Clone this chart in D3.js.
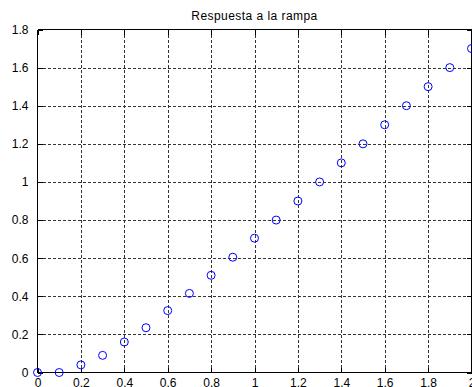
<!DOCTYPE html>
<html>
<head>
<meta charset="utf-8">
<script src="https://cdn.jsdelivr.net/npm/d3@7"></script>
<style>
  html, body { margin: 0; padding: 0; background: #fff; overflow: hidden; }
  svg { display: block; }
  text { font-family: Arial, "Liberation Sans", Helvetica, sans-serif; fill: #000; }
</style>
</head>
<body>
<svg id="chart" width="472" height="387"></svg>
<script>
// Sample instants (s) and the system's output to a ramp input
const tiempo = [0, 0.1, 0.2, 0.3, 0.4, 0.5, 0.6, 0.7, 0.8, 0.9, 1.0,
                1.1, 1.2, 1.3, 1.4, 1.5, 1.6, 1.7, 1.8, 1.9, 2.0];
const respuesta = [0, 0, 0.04, 0.09, 0.16, 0.235, 0.325, 0.415, 0.51, 0.605, 0.705,
                   0.80, 0.90, 1.00, 1.10, 1.20, 1.30, 1.40, 1.50, 1.60, 1.70];
const xTicks = [0, 0.2, 0.4, 0.6, 0.8, 1, 1.2, 1.4, 1.6, 1.8, 2];
const yTicks = [0, 0.2, 0.4, 0.6, 0.8, 1, 1.2, 1.4, 1.6, 1.8];
const titulo = "Respuesta a la rampa";

const svg = d3.select("#chart");
const mLeft = 37.5, mRight = 471.5, mTop = 29.5, mBottom = 372.5;

const x = d3.scaleLinear().domain([0, 2]).range([mLeft, mRight]);
const y = d3.scaleLinear().domain([0, 1.8]).range([mBottom, mTop]);

const fmt = d => String(d);

// dashed grid
const grid = svg.append("g").attr("stroke", "#333").attr("stroke-width", 1)
  .attr("stroke-dasharray", "3,2").attr("shape-rendering", "crispEdges");
grid.selectAll("line.v").data(xTicks.slice(1, -1)).join("line")
  .attr("x1", d => Math.round(x(d)) + 0.5).attr("x2", d => Math.round(x(d)) + 0.5)
  .attr("y1", mTop).attr("y2", mBottom);
grid.selectAll("line.h").data(yTicks.slice(1, -1)).join("line")
  .attr("y1", d => Math.round(y(d)) + 0.5).attr("y2", d => Math.round(y(d)) + 0.5)
  .attr("x1", mLeft).attr("x2", mRight);

// axes with inward ticks
const axL = svg.append("g").attr("transform", `translate(${mLeft},0)`)
  .call(d3.axisLeft(y).tickValues(yTicks).tickFormat(fmt).tickSize(-5).tickPadding(9));
const axB = svg.append("g").attr("transform", `translate(0,${mBottom})`)
  .call(d3.axisBottom(x).tickValues(xTicks).tickFormat(fmt).tickSize(-5).tickPadding(10));
const axT = svg.append("g").attr("transform", `translate(0,${mTop})`)
  .call(d3.axisTop(x).tickValues(xTicks).tickFormat("").tickSize(-5));
const axR = svg.append("g").attr("transform", `translate(${mRight},0)`)
  .call(d3.axisRight(y).tickValues(yTicks).tickFormat("").tickSize(-5));

[axL, axB, axT, axR].forEach(a => {
  a.select(".domain").attr("stroke", "#000").attr("shape-rendering", "crispEdges");
  a.selectAll(".tick line").attr("stroke", "#000").attr("shape-rendering", "crispEdges");
  a.selectAll("text").attr("font-size", 12).attr("font-family", "Arial, 'Liberation Sans', sans-serif").attr("fill", "#000");
});
axB.selectAll(".domain").attr("d", `M${mLeft},0H${mRight}`);
axT.selectAll(".domain").attr("d", `M${mLeft},0H${mRight}`);
axL.selectAll(".domain").attr("d", `M0,${mTop}V${mBottom}`);
axR.selectAll(".domain").attr("d", `M0,${mTop}V${mBottom}`);
axB.selectAll("text").attr("dy", null).attr("y", 14.5);

// markers
svg.append("g").selectAll("circle").data(tiempo).join("circle")
  .attr("cx", (d, i) => x(d)).attr("cy", (d, i) => y(respuesta[i]))
  .attr("r", 4).attr("fill", "none").attr("stroke", "#0000ff").attr("stroke-width", 1);

// title
svg.append("text").attr("x", (mLeft + mRight) / 2).attr("y", 20)
  .attr("text-anchor", "middle").attr("font-size", 12).attr("letter-spacing", 0.45)
  .text(titulo);
</script>
</body>
</html>
